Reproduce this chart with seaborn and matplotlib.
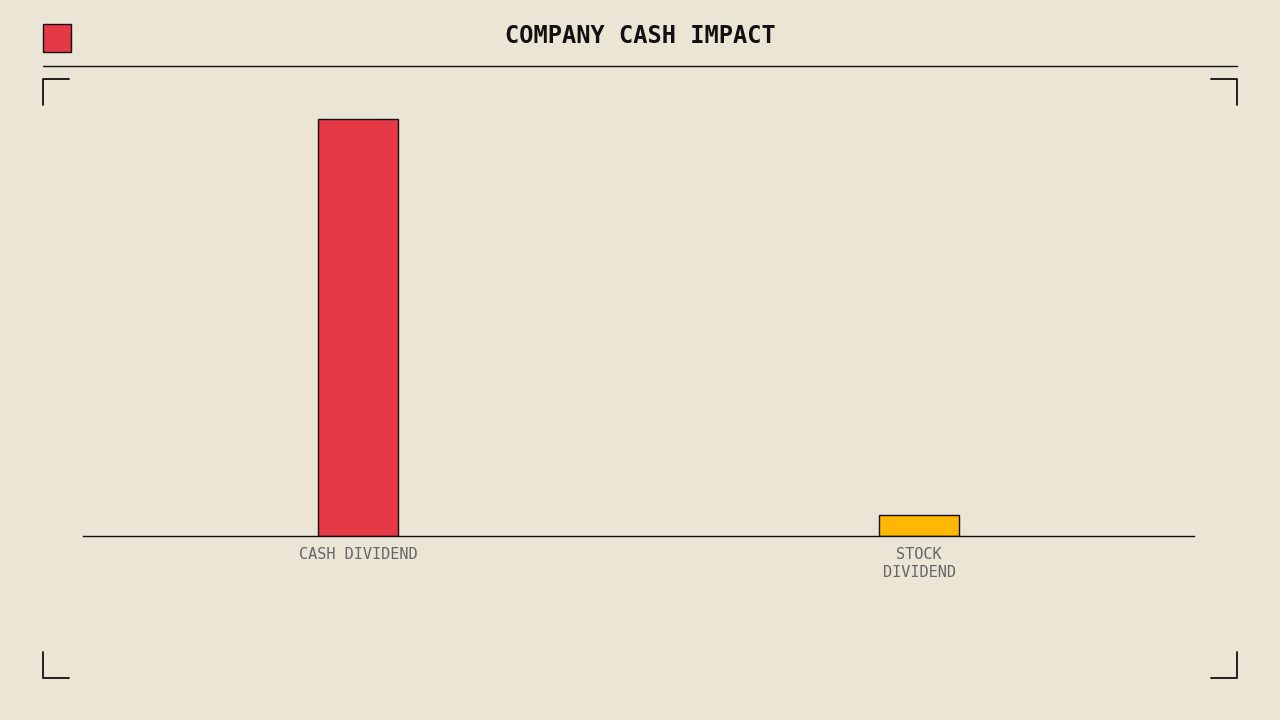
import matplotlib
matplotlib.use("Agg")
import matplotlib.pyplot as plt
import seaborn as sns
import pandas as pd
from matplotlib.lines import Line2D
from matplotlib.patches import Rectangle

categories = ["CASH DIVIDEND", "STOCK\nDIVIDEND"]
values = [100, 5]
colors = ["#E63946", "#FFB703"]

BG = "#EBE5D5"
sns.set_theme(style="white")
plt.rcParams['font.family'] = ['DejaVu Sans Mono', 'DejaVu Sans']

fig = plt.figure(figsize=(12.8, 7.2), dpi=100, facecolor=BG)
W, H = 1280, 720
ax = fig.add_axes([83 / W, (720 - 536) / H, 1111 / W, 436 / H])
ax.set_facecolor(BG)
df = pd.DataFrame({"cat": categories, "val": values})
sns.barplot(data=df, x="cat", y="val", hue="cat", palette=colors, legend=False,
            width=0.143, edgecolor="#111111", linewidth=1, ax=ax, saturation=1)
ax.set_xlim(-0.49, 1.49)
ax.set_ylim(0, 104.6)
for s in ["top", "right", "left"]:
    ax.spines[s].set_visible(False)
ax.spines["bottom"].set_color("#111111")
ax.spines["bottom"].set_linewidth(1)
ax.set_yticks([])
ax.set_xlabel("")
ax.set_ylabel("")
ax.tick_params(axis="x", length=0, pad=8, labelsize=11, labelcolor="#666666")

def fx(x): return x / W
def fy(y): return 1 - y / H

fig.text(0.5, fy(36), "COMPANY CASH IMPACT", ha="center", va="center",
         fontsize=17, fontweight="bold", color="#111111")
fig.patches.append(Rectangle((fx(43), fy(52)), 28 / W, 28 / H, transform=fig.transFigure,
                             facecolor="#E63946", edgecolor="#111111", linewidth=1))
fig.lines.append(Line2D([fx(43), fx(1237)], [fy(66), fy(66)], transform=fig.transFigure,
                        color="#111111", linewidth=1))
L = 26
for (cx, cy, dx, dy) in [(43, 79, 1, 1), (1237, 79, -1, 1), (43, 678, 1, -1), (1237, 678, -1, -1)]:
    fig.lines.append(Line2D([fx(cx + dx * L), fx(cx), fx(cx)], [fy(cy), fy(cy), fy(cy + dy * L)],
                            transform=fig.transFigure, color="#111111", linewidth=1.3))

fig.savefig("out.png", dpi=100, facecolor=BG)
